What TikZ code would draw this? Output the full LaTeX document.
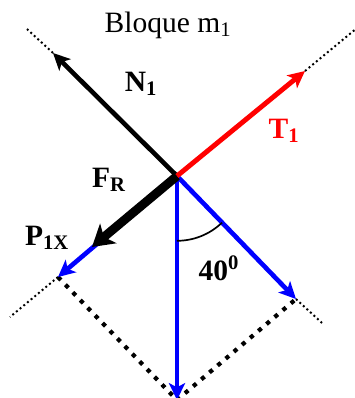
\documentclass[tikz,border=0pt]{standalone}
\usepackage{fontspec}
\setmainfont{Liberation Serif}
\usepackage{xcolor}
\usepackage{tikz}
\usetikzlibrary{arrows.meta, calc}
\definecolor{azul}{HTML}{0000FF}
\definecolor{rojo}{HTML}{FF0000}
\definecolor{negro}{HTML}{000000}

\begin{document}
\begin{tikzpicture}[
    fuerza/.style={line width=3.3pt, -{Stealth[length=12pt, width=11.5pt, inset=3pt]}},
    resultante/.style={line width=6.3pt, -{Stealth[length=15pt, width=18pt, inset=4pt]}},
    guia/.style={line width=1.4pt, dash pattern=on 1.4pt off 2pt},
    paralelo/.style={line width=3pt, dash pattern=on 3pt off 4.6pt},
    etiqueta/.style={font=\fontsize{21}{25}\selectfont\bfseries}
  ]
    \useasboundingbox (-4.425,-5.55) rectangle (4.425,4.4);
    % Puntos
    \coordinate (O) at (0,0);
    \coordinate (N) at (-3.1,3.075);
    \coordinate (T) at (3.2,2.625);
    \coordinate (P) at (-2.975,-2.525);
    \coordinate (Q) at (2.975,-3.075);
    \coordinate (W) at (0,-5.6);
    \coordinate (F) at (-2.125,-1.775);
    \coordinate (Ng) at (-3.75,3.675);
    \coordinate (Tg) at (4.5,3.7);
    \coordinate (Pg) at (-4.175,-3.525);
    \coordinate (Qg) at (3.625,-3.675);
    % Guias
    \draw[negro, guia] (N) -- (Ng);
    \draw[negro, guia] (T) -- (Tg);
    \draw[negro, guia] (P) -- (Pg);
    \draw[negro, guia] (Q) -- (Qg);
    \draw[negro, paralelo] (P) -- (W) -- (Q);
    % Componentes del peso
    \draw[azul, fuerza] (O) -- (W);
    \draw[azul, fuerza] (O) -- (P);
    \draw[azul, fuerza] (O) -- (Q);
    % Fuerzas
    \draw[negro, resultante] (O) -- (F);
    \draw[negro, fuerza] (O) -- (N);
    \draw[rojo, fuerza, line width=3.5pt] (O) -- (T);
    % Angulo
    \draw[negro, line width=1.2pt] ($(O)+(-90:1.62)$) arc[start angle=-90, end angle=-46, radius=1.62];
    % Textos
    \node[font=\fontsize{21}{25}\selectfont] (titulo) at (-0.225,3.775) {Bloque m\textsubscript{1}};
    \node[etiqueta] (lblN) at (-0.9,2.3) {N\textsubscript{1}};
    \node[etiqueta, rojo] (lblT) at (2.675,1.125) {T\textsubscript{1}};
    \node[etiqueta] (lblF) at (-1.7,-0.1) {F\textsubscript{R}};
    \node[etiqueta] (lblP) at (-3.25,-1.55) {P\textsubscript{1X}};
    \node[etiqueta] (lblAng) at (1.05,-2.3) {40\textsuperscript{0}};
\end{tikzpicture}
\end{document}
